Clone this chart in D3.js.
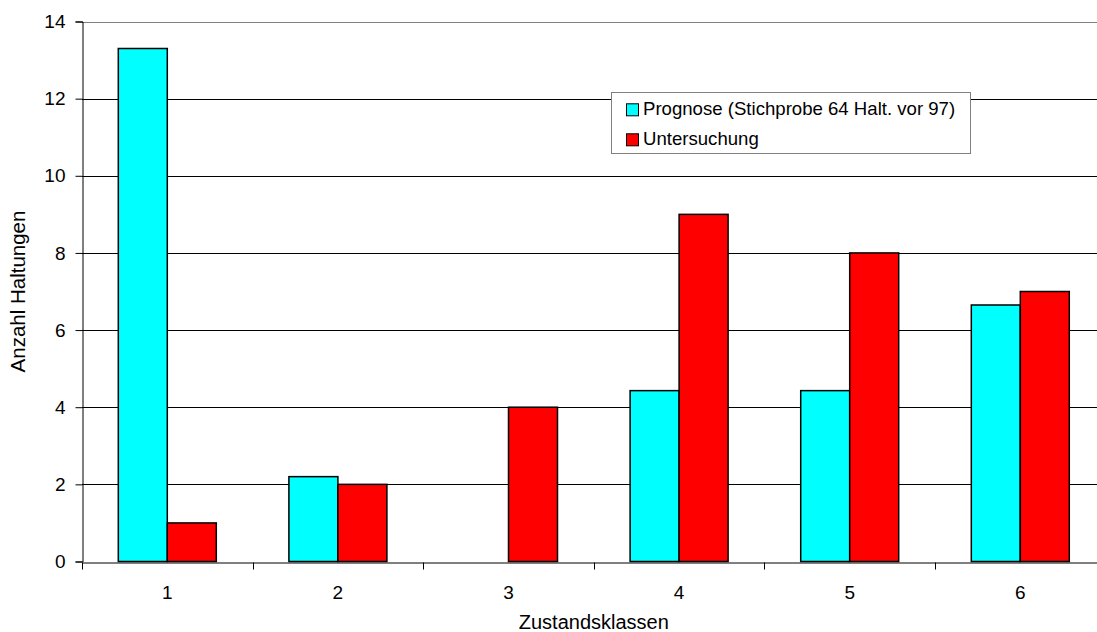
<!DOCTYPE html>
<html>
<head>
<meta charset="utf-8">
<script src="https://cdn.jsdelivr.net/npm/d3@7"></script>
<style>
  html, body { margin: 0; padding: 0; background: #fff; }
  svg { display: block; font-family: Arial, "Liberation Sans", sans-serif; }
</style>
</head>
<body>
<svg id="chart" width="1097" height="632"></svg>
<script>
const categories = ["1", "2", "3", "4", "5", "6"];
const seriesNames = ["Prognose (Stichprobe 64 Halt. vor 97)", "Untersuchung"];
const prognose = [13.3, 2.2, 0, 4.43, 4.43, 6.65];
const untersuchung = [1, 2, 4, 9, 8, 7];
const yTicks = [0, 2, 4, 6, 8, 10, 12, 14];
const colors = ["#00FFFF", "#FF0000"];

const svg = d3.select("#chart");
const pLeft = 82, pRight = 1105.6, pTop = 21.5, pBottom = 561.5;

const x = d3.scaleBand().domain(categories).range([pLeft, pRight]).paddingInner(0).paddingOuter(0);
const x1 = d3.scaleBand().domain([0, 1]).range([0, x.bandwidth()]).paddingInner(0).paddingOuter(0.741);
const y = d3.scaleLinear().domain([0, 14]).range([pBottom, pTop]);

// gridlines
svg.append("g").selectAll("line").data(yTicks.filter(d => d > 0)).join("line")
  .attr("x1", pLeft).attr("x2", pRight)
  .attr("y1", d => Math.round(y(d)) + 0.5).attr("y2", d => Math.round(y(d)) + 0.5)
  .attr("stroke", d => d === 14 ? "#808080" : "#000").attr("stroke-width", 1);

// bars
const rows = categories.map((c, i) => ({c, vals: [prognose[i], untersuchung[i]]}));
const groups = svg.append("g").selectAll("g").data(rows).join("g")
  .attr("transform", d => `translate(${x(d.c)},0)`);
groups.selectAll("rect").data(d => d.vals.map((v, k) => ({v, k})).filter(e => e.v > 0)).join("rect")
  .attr("x", e => x1(e.k)).attr("width", x1.bandwidth())
  .attr("y", e => y(e.v)).attr("height", e => y(0) - y(e.v))
  .attr("fill", e => colors[e.k]).attr("stroke", "#000").attr("stroke-width", 1.5);

// y axis
const yAxis = d3.axisLeft(y).tickValues(yTicks).tickSize(7).tickPadding(10).tickFormat(d3.format("d"));
const ga = svg.append("g").attr("transform", `translate(${pLeft + 0.5},0)`).call(yAxis);
ga.select(".domain").attr("stroke", "#000");
ga.selectAll(".tick line").attr("stroke", "#000");
ga.selectAll("text").attr("font-size", 19).attr("fill", "#000").attr("font-family", "Arial, 'Liberation Sans', sans-serif");

// x axis
const xAxis = d3.axisBottom(x).tickSize(0).tickPadding(23);
const gx = svg.append("g").attr("transform", `translate(0,${Math.round(pBottom) + 0.5})`).call(xAxis);
gx.select(".domain").attr("stroke", "#000");
gx.selectAll("text").attr("font-size", 19).attr("fill", "#000").attr("font-family", "Arial, 'Liberation Sans', sans-serif");
// category separator ticks
const sepPositions = categories.map(c => x(c)).concat([pRight]);
gx.append("g").selectAll("line").data(sepPositions).join("line")
  .attr("x1", d => Math.round(d) + 0.5).attr("x2", d => Math.round(d) + 0.5)
  .attr("y1", 0).attr("y2", 7).attr("stroke", "#000");

// axis titles
svg.append("text").attr("x", (pLeft + pRight) / 2).attr("y", 628.5)
  .attr("text-anchor", "middle").attr("font-size", 20).text("Zustandsklassen");
svg.append("text").attr("transform", `translate(25,${(pTop + pBottom) / 2}) rotate(-90)`)
  .attr("text-anchor", "middle").attr("font-size", 20.5).text("Anzahl Haltungen");

// legend
const lg = svg.append("g");
lg.append("rect").attr("x", 611.5).attr("y", 92.5).attr("width", 359).attr("height", 61)
  .attr("fill", "#fff").attr("stroke", "#808080").attr("stroke-width", 1);
const legendY = [115.3, 145.3];
seriesNames.forEach((name, i) => {
  lg.append("rect").attr("x", 626.5).attr("y", legendY[i] - 11.5).attr("width", 12).attr("height", 12)
    .attr("fill", colors[i]).attr("stroke", "#000").attr("stroke-width", 1);
  lg.append("text").attr("x", 643).attr("y", legendY[i]).attr("font-size", 18.6).text(name);
});
</script>
</body>
</html>
